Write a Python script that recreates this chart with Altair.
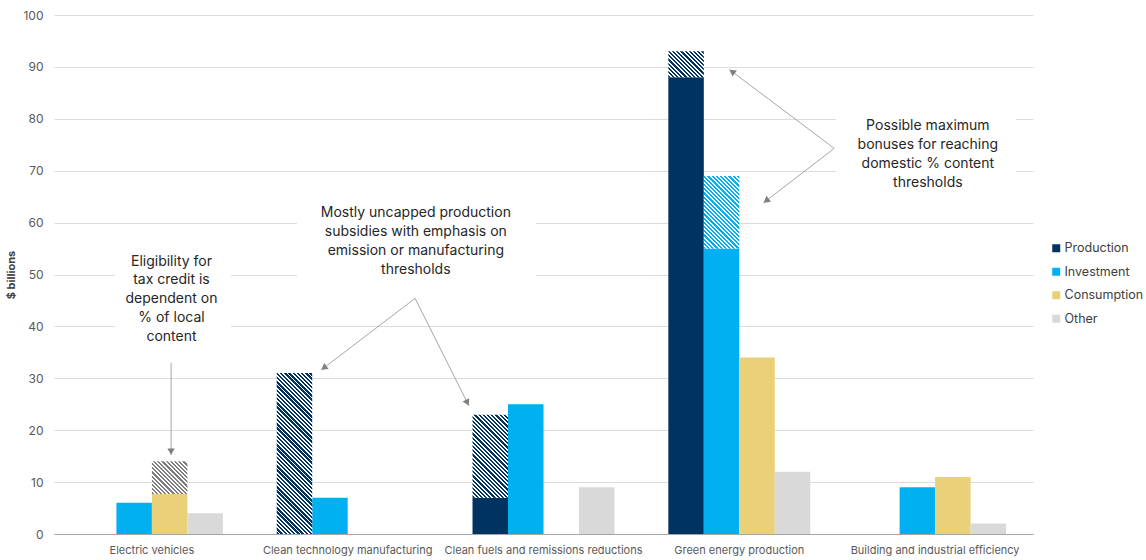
import math
import altair as alt
import pandas as pd

# ---------------- data ----------------
categories = [
    "Electric vehicles",
    "Clean technology manufacturing",
    "Clean fuels and remissions reductions",
    "Green energy production",
    "Building and industrial efficiency",
]
series = ["Production", "Investment", "Consumption", "Other"]
colors = ["#00335F", "#00B0F0", "#EBD07A", "#D9D9D9"]
hatch_colors = {"Production": "#00335F", "Investment": "#00B0F0", "Consumption": "#7F7F7F"}

# solid (base) values, $ billions
production_solid = [0, 0, 7, 88, 0]
investment_solid = [6, 7, 25, 55, 9]
consumption_solid = [7.7, 0, 0, 34, 11]
other_solid = [4, 0, 9, 12, 2]

# totals including possible bonuses (hatched part)
production_total = [0, 31, 23, 93, 0]
investment_total = [6, 7, 25, 69, 9]
consumption_total = [14, 0, 0, 34, 11]
other_total = [4, 0, 9, 12, 2]

# annotations (x in category units 0..5, y in $ billions; y = first text line)
note_text = [
    "Eligibility for\ntax credit is\ndependent on\n% of local\ncontent",
    "Mostly uncapped production\nsubsidies with emphasis on\nemission or manufacturing\nthresholds",
    "Possible maximum\nbonuses for reaching\ndomestic % content\nthresholds",
]
note_x = [0.600, 1.848, 4.463]
note_y = [52.5, 61.8, 78.6]
box_x = [0.311, 1.241, 3.994]
box_x2 = [0.904, 2.462, 4.913]
box_y = [36.4, 48.0, 64.4]
box_y2 = [55.1, 64.4, 81.7]

arrow_x = [0.598, 1.844, 1.844, 3.985, 3.985]
arrow_y = [33.0, 45.4, 45.4, 74.3, 74.3]
arrow_x2 = [0.598, 1.364, 2.119, 3.449, 3.623]
arrow_y2 = [15.2, 31.6, 24.7, 89.5, 63.8]

# ---------------- layout ----------------
WIDTH, HEIGHT = 979, 519
PAD_IN = 0.275
N = len(categories)
STEP = WIDTH / N
BAR_W = STEP * (1 - PAD_IN) / len(series)
PX_Y = HEIGHT / 100.0
PX_X = WIDTH / N
FONT = "Inter"

solid_rows, hatch_rows = [], []
sol = [production_solid, investment_solid, consumption_solid, other_solid]
tot = [production_total, investment_total, consumption_total, other_total]
for si, s in enumerate(series):
    for ci, c in enumerate(categories):
        if sol[si][ci] > 0:
            solid_rows.append({"cat": c, "series": s, "lo": 0, "hi": sol[si][ci]})
        if tot[si][ci] > sol[si][ci]:
            hatch_rows.append({"cat": c, "series": s, "lo": sol[si][ci], "hi": tot[si][ci]})
solid_df = pd.DataFrame(solid_rows)


def hatch(color, w, h, period=4.2, frac=0.55):
    n = (w + h) / period
    k = (w + h) / (w * w + h * h)
    stops = []
    i = 0
    while i < n:
        a = i / n
        b = min((i + frac) / n, 1.0)
        c = min((i + 1) / n, 1.0)
        stops += [
            {"offset": a, "color": color},
            {"offset": b, "color": color},
            {"offset": b, "color": "#FFFFFF"},
            {"offset": c, "color": "#FFFFFF"},
        ]
        i += 1
    return {"gradient": "linear", "x1": 0, "y1": 1, "x2": k * w, "y2": 1 - k * h, "stops": stops}


y_axis = alt.Axis(
    title="$ billions", values=list(range(0, 101, 10)), domain=False, ticks=False,
    labelFontSize=12, labelColor="#595959", labelPadding=11, labelFont=FONT,
    gridColor="#DCDCDC", titleFontSize=11, titleFontWeight="bold", titleColor="#404040",
    titlePadding=6, titleFont=FONT,
)
y_scale = alt.Scale(domain=[0, 100], nice=False)

x_enc = alt.X(
    "cat:N",
    sort=categories,
    scale=alt.Scale(domain=categories, paddingInner=PAD_IN, paddingOuter=PAD_IN / 2),
    axis=alt.Axis(
        title=None, labelAngle=0, ticks=False, labelFontSize=11, labelColor="#595959",
        domainColor="#A6A6A6", domainWidth=1.2, labelPadding=10, labelFont=FONT,
        labelLimit=400,
    ),
)
xo_enc = alt.XOffset("series:N", scale=alt.Scale(domain=series))

solid = alt.Chart(solid_df).mark_bar().encode(
    x=x_enc,
    xOffset=xo_enc,
    y=alt.Y("lo:Q", scale=y_scale, axis=y_axis),
    y2="hi:Q",
    color=alt.Color(
        "series:N",
        scale=alt.Scale(domain=series, range=colors),
        legend=alt.Legend(
            title=None, orient="none", legendX=996, legendY=227, symbolType="square",
            symbolSize=64, labelFontSize=12.5, labelColor="#404040", rowPadding=10.5,
            labelOffset=2, labelFont=FONT, symbolStrokeWidth=0,
        ),
    ),
)

hatch_layers = []
for r in hatch_rows:
    h = (r["hi"] - r["lo"]) * PX_Y
    grad = hatch(hatch_colors[r["series"]], BAR_W, h)
    hatch_layers.append(
        alt.Chart(pd.DataFrame([r])).mark_bar(fill=grad).encode(
            x=alt.X("cat:N", sort=categories),
            xOffset=alt.XOffset("series:N"),
            y=alt.Y("lo:Q", scale=y_scale, axis=y_axis),
            y2="hi:Q",
        )
    )

bars = alt.layer(solid, *hatch_layers)

# annotations
ax = alt.Scale(domain=[0, N], nice=False, zero=False)

box_df = pd.DataFrame({"x": box_x, "x2": box_x2, "lo": box_y, "y2": box_y2})
boxes = alt.Chart(box_df).mark_rect(color="#FFFFFF").encode(
    x=alt.X("x:Q", scale=ax, axis=None), x2="x2",
    y=alt.Y("lo:Q", scale=y_scale, axis=y_axis), y2="y2",
)

arrow_df = pd.DataFrame({"x": arrow_x, "lo": arrow_y, "x2": arrow_x2, "y2": arrow_y2})
rules = alt.Chart(arrow_df).mark_rule(color="#A6A6A6", strokeWidth=1).encode(
    x=alt.X("x:Q", scale=ax, axis=None), x2="x2",
    y=alt.Y("lo:Q", scale=y_scale, axis=y_axis), y2="y2",
)

head_rows = []
for x1, y1, x2, y2 in zip(arrow_x, arrow_y, arrow_x2, arrow_y2):
    dx = (x2 - x1) * PX_X
    dy = -(y2 - y1) * PX_Y
    L = math.hypot(dx, dy)
    ux, uy = dx / L, dy / L
    ang = math.degrees(math.atan2(ux, -uy)) % 360
    back = 3.5
    head_rows.append({
        "x": x2 - ux * back / PX_X,
        "lo": y2 + uy * back / PX_Y,
        "angle": ang,
    })
heads = alt.Chart(pd.DataFrame(head_rows)).mark_point(
    shape="triangle-up", filled=True, color="#808080", size=55, opacity=1
).encode(
    x=alt.X("x:Q", scale=ax, axis=None),
    y=alt.Y("lo:Q", scale=y_scale, axis=y_axis),
    angle=alt.Angle("angle:Q", scale=None),
)

note_df = pd.DataFrame({"t": note_text, "x": note_x, "lo": note_y})
notes = alt.Chart(note_df).mark_text(
    fontSize=14, font=FONT, color="#262626", align="center", baseline="middle",
    lineBreak="\n", lineHeight=18.9,
).encode(
    x=alt.X("x:Q", scale=ax, axis=None),
    y=alt.Y("lo:Q", scale=y_scale, axis=y_axis),
    text="t:N",
)

ann = alt.layer(boxes, rules, heads, notes)

chart = (
    alt.layer(bars, ann)
    .resolve_scale(x="independent")
    .properties(
        width=WIDTH,
        height=HEIGHT,
        autosize=alt.AutoSizeParams(type="none"),
        padding={"left": 54, "top": 15, "right": 113, "bottom": 26},
    )
    .configure(font=FONT)
    .configure_view(stroke="transparent", strokeWidth=0)
)

chart.save("out.html", embed_options={"renderer": "svg", "actions": False})
